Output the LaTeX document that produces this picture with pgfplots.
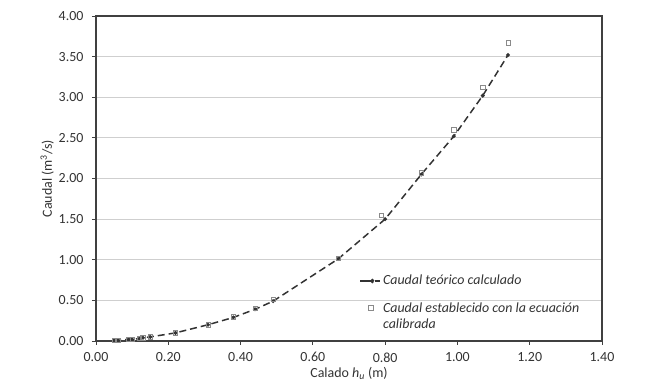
\documentclass[border=0pt]{standalone}
\usepackage{pgfplots}
\pgfplotsset{compat=1.18}
\usepackage{fontspec}
\setmainfont{Carlito}
\definecolor{axisgray}{HTML}{404040}
\definecolor{gridgray}{HTML}{CFCFCF}
\definecolor{linegray}{HTML}{333333}
\definecolor{sqgray}{HTML}{8A8A8A}
\definecolor{txtgray}{HTML}{333333}

\begin{document}
\begin{tikzpicture}
\begin{axis}[
  scale only axis,
  width=506bp, height=325bp,
  xmin=0, xmax=1.4, ymin=0, ymax=4,
  xtick={0,0.2,...,1.4}, ytick={0,0.5,...,4},
  tick label style={font=\fontsize{14}{16.5}\selectfont, text=txtgray},
  xticklabel style={yshift=-4bp, /pgf/number format/.cd,fixed,fixed zerofill,precision=2},
  yticklabel style={xshift=-5bp, /pgf/number format/.cd,fixed,fixed zerofill,precision=2},
  /pgf/number format/assume math mode=true,
  ymajorgrids, grid style={gridgray, line width=0.9pt},
  axis line style={axisgray, line width=1.2pt},
  tick style={axisgray, line width=0.8pt},
  tick align=outside, major tick length=4bp,
  xtick pos=bottom, ytick pos=left,
  xlabel={Calado \textit{h}\textsubscript{\textit{u}} (m)},
  ylabel={Caudal (m\textsuperscript{3}/s)},
  label style={font=\fontsize{14}{16.5}\selectfont, text=txtgray},
  xlabel style={yshift=2bp},
  ylabel style={yshift=-2bp},
  legend style={draw=none, fill=none, at={(0.515,0.215)}, anchor=north west,
    font=\fontsize{14}{16.5}\selectfont\itshape, text=txtgray,
    cells={anchor=base west, align=left}, row sep=12bp},
]
% Theoretical discharge curve
\addplot[linegray, line width=1.5pt, dash pattern=on 7bp off 4bp,
  mark=*, mark size=1.1pt, mark options={solid, fill=linegray},
  legend image code/.code={
    \draw[solid, linegray, line width=1.3pt] (0bp,4bp) -- (11bp,4bp);
    \fill[linegray] (12bp,4bp) circle (1.4pt);
    \draw[solid, linegray, line width=1.3pt] (15bp,4bp) -- (20bp,4bp);
  }] coordinates {
 (0.05,0.01) (0.06,0.01) (0.09,0.02) (0.10,0.02) (0.12,0.03) (0.13,0.04)
 (0.15,0.05) (0.22,0.10) (0.31,0.20) (0.38,0.29) (0.44,0.39) (0.49,0.49)
 (0.67,1.01) (0.80,1.50) (0.90,2.05) (0.99,2.52) (1.07,3.02) (1.14,3.52)
};
\addlegendentry{Caudal teórico calculado}
% Discharge from the calibrated equation
\addplot[only marks, mark=square, mark size=2.2pt,
  mark options={sqgray, line width=0.6pt},
  legend image code/.code={
    \draw[solid, sqgray, line width=0.6pt] (8bp,18.5bp) rectangle (12.4bp,22.9bp);
  }] coordinates {
 (0.05,0.01) (0.06,0.01) (0.09,0.02) (0.10,0.02) (0.12,0.03) (0.13,0.04)
 (0.15,0.05) (0.22,0.10) (0.31,0.20) (0.38,0.30) (0.44,0.40) (0.49,0.51)
 (0.67,1.02) (0.79,1.55) (0.90,2.07) (0.99,2.60) (1.07,3.12) (1.14,3.67)
};
\addlegendentry{Caudal establecido con la ecuación\\calibrada}
\end{axis}
\path[use as bounding box] ([shift={(-96bp,-44bp)}]current axis.south west)
  rectangle ([shift={(44bp,16bp)}]current axis.north east);
\end{tikzpicture}
\end{document}
